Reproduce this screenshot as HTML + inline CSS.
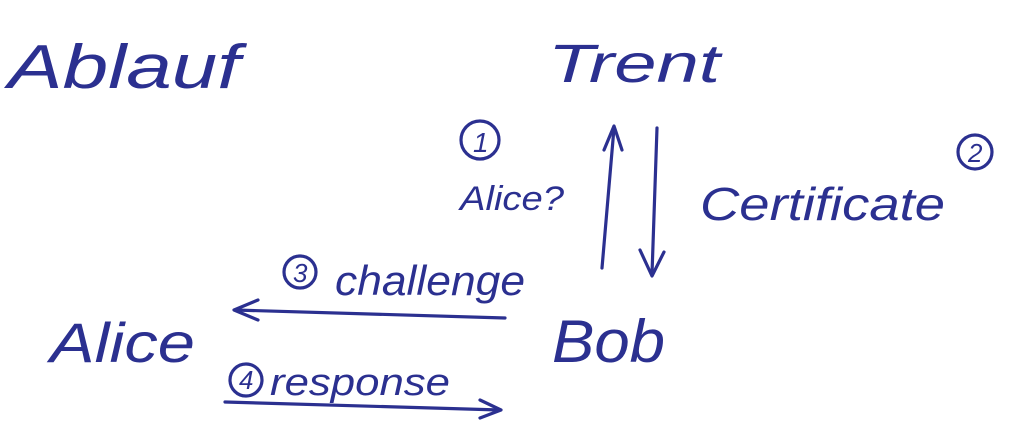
<!DOCTYPE html>
<html><head><meta charset="utf-8"><style>
html,body{margin:0;padding:0;background:#fff;}
svg{display:block;}
text{font-family:"Liberation Sans",sans-serif;fill:#2b3090;font-style:italic;}
</style></head><body>
<svg width="1015" height="428" viewBox="0 0 1015 428" xmlns="http://www.w3.org/2000/svg">
<g stroke="#2b3090" stroke-width="3.2" fill="none" stroke-linecap="round" stroke-linejoin="round">
<path d="M602 268 L614 128"/><path d="M604 150 L614 126 L622 150"/>
<path d="M657 128 L652 274"/><path d="M640 250 L652 276 L664 252"/>
<path d="M505 318 L235 310"/><path d="M258 300 L234 310 L258 320"/>
<path d="M225 402 L500 410"/><path d="M480 400 L501 410 L480 418"/>
<circle cx="480" cy="140" r="19"/>
<circle cx="975" cy="152" r="17"/>
<circle cx="300" cy="272" r="16"/>
<circle cx="246" cy="380" r="16"/>
</g>
<text x="8" y="88" font-size="62" textLength="232" lengthAdjust="spacingAndGlyphs">Ablauf</text>
<text x="548" y="82" font-size="54" textLength="172" lengthAdjust="spacingAndGlyphs">Trent</text>
<text x="473" y="152" font-size="28">1</text>
<text x="968" y="162" font-size="26">2</text>
<text x="460" y="210" font-size="34" textLength="104" lengthAdjust="spacingAndGlyphs">Alice?</text>
<text x="700" y="220" font-size="46" textLength="245" lengthAdjust="spacingAndGlyphs">Certificate</text>
<text x="293" y="282" font-size="26">3</text>
<text x="335" y="295" font-size="42" textLength="190" lengthAdjust="spacingAndGlyphs">challenge</text>
<text x="239" y="389" font-size="26">4</text>
<text x="270" y="395" font-size="38" textLength="180" lengthAdjust="spacingAndGlyphs">response</text>
<text x="50" y="362" font-size="56" textLength="145" lengthAdjust="spacingAndGlyphs">Alice</text>
<text x="552" y="362" font-size="60" textLength="113" lengthAdjust="spacingAndGlyphs">Bob</text>
</svg>
</body></html>
